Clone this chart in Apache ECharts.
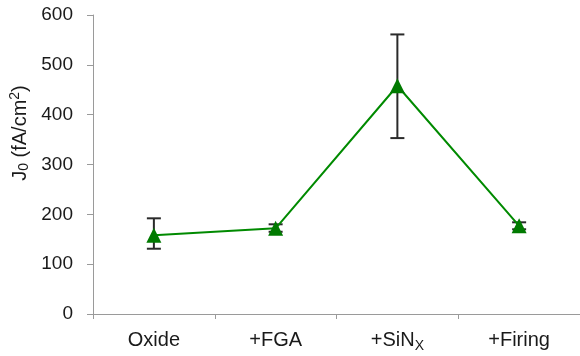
<!DOCTYPE html>
<html><head><meta charset="utf-8">
<script src="https://cdn.jsdelivr.net/npm/echarts@6/dist/echarts.min.js"></script>
<style>html,body{margin:0;padding:0;background:#fff}#c{width:580px;height:356px}</style>
</head><body><div id="c"></div>
<script>
const categories = ['Oxide', '+FGA', '+SiNX', '+Firing'];
const j0Values = [158, 172, 458, 177];
const errLower = [131, 165, 353, 170];
const errUpper = [192, 180, 561, 184];
const yTicks = [0, 100, 200, 300, 400, 500, 600];

const chart = echarts.init(document.getElementById('c'));
const font = '"Liberation Sans", Arial, sans-serif';
const txt = '#1a1a1a';
chart.setOption({
  animation: false,
  grid: { left: 93, top: 15, bottom: 42, right: -3, containLabel: false },
  xAxis: {
    type: 'category', data: categories, boundaryGap: true,
    axisLine: { lineStyle: { color: '#9a9a9a', width: 1 } },
    axisTick: { show: true, length: 5, interval: 0, lineStyle: { color: '#9a9a9a' } },
    axisLabel: {
      interval: 0, margin: 14, color: txt, fontSize: 20, fontFamily: font,
      formatter: v => v === '+SiNX' ? '{a|+SiN}{sub|X}' : '{a|' + v + '}',
      rich: {
        a: { fontSize: 20, fontFamily: font, color: txt, lineHeight: 22, verticalAlign: 'bottom' },
        sub: { fontSize: 14, fontFamily: font, color: txt, verticalAlign: 'bottom', padding: [0, 0, -3, 0] }
      }
    },
    splitLine: { show: false }
  },
  yAxis: {
    type: 'value', min: yTicks[0], max: yTicks[yTicks.length - 1], interval: 100,
    axisLine: { show: true, lineStyle: { color: '#9a9a9a', width: 1 } },
    axisTick: { show: true, length: 6, lineStyle: { color: '#9a9a9a' } },
    axisLabel: { margin: 20, color: txt, fontSize: 19, fontFamily: font },
    splitLine: { show: false }
  },
  graphic: [{
    type: 'text', x: 20, y: 133, rotation: Math.PI / 2,
    style: {
      text: '{a|J}{sub|0}{a| (fA/cm}{sup|2}{a|)}',
      align: 'center', verticalAlign: 'middle',
      fill: txt, font: '20px ' + font,
      rich: {
        a: { fontSize: 20, fontFamily: font, fill: txt, lineHeight: 24 },
        sub: { fontSize: 14, fontFamily: font, fill: txt, padding: [9, 0, 0, 0] },
        sup: { fontSize: 14, fontFamily: font, fill: txt, padding: [0, 0, 9, 0] }
      }
    }
  }],
  series: [
    {
      type: 'line', data: j0Values, symbol: 'triangle', symbolSize: 15,
      lineStyle: { color: '#008a00', width: 2 },
      itemStyle: { color: '#007a00' }, z: 3
    },
    {
      type: 'custom', z: 2,
      data: categories.map((c, i) => [i, errLower[i], errUpper[i]]),
      renderItem: (params, api) => {
        const lo = api.coord([api.value(0), api.value(1)]);
        const hi = api.coord([api.value(0), api.value(2)]);
        const hw = 7;
        const st = { stroke: '#2a2a2a', lineWidth: 2 };
        return { type: 'group', children: [
          { type: 'line', shape: { x1: lo[0], y1: lo[1], x2: hi[0], y2: hi[1] }, style: st },
          { type: 'line', shape: { x1: lo[0] - hw, y1: lo[1], x2: lo[0] + hw, y2: lo[1] }, style: st },
          { type: 'line', shape: { x1: hi[0] - hw, y1: hi[1], x2: hi[0] + hw, y2: hi[1] }, style: st }
        ]};
      }
    }
  ]
});
</script></body></html>
